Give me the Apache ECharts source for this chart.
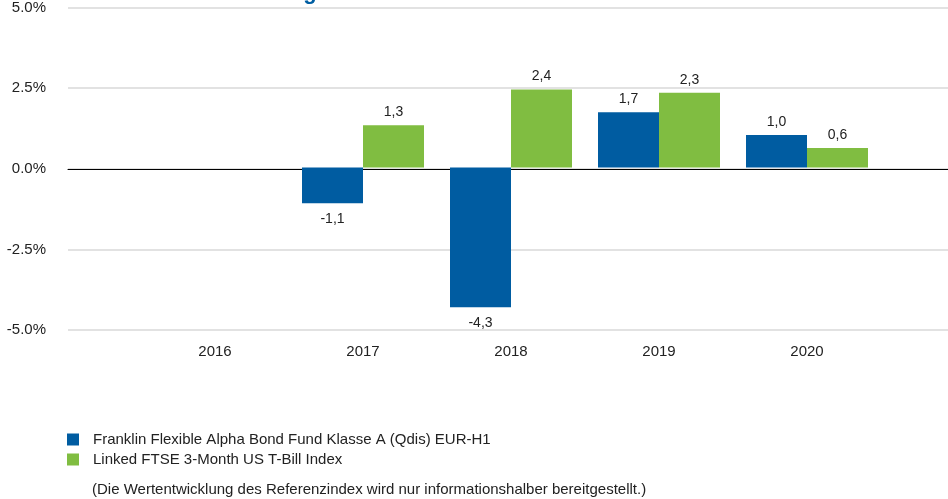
<!DOCTYPE html>
<html>
<head>
<meta charset="utf-8">
<script src="https://cdn.jsdelivr.net/npm/echarts@6/dist/echarts.min.js"></script>
<style>
html,body{margin:0;padding:0;background:#fff;}
#chart{width:948px;height:499px;}
</style>
</head>
<body>
<div id="chart"></div>
<script>
var years=['2016','2017','2018','2019','2020'];
var fundValues=[null,-1.1,-4.3,1.7,1.0];
var indexValues=[null,1.3,2.4,2.3,0.6];
var fundName='Franklin Flexible Alpha Bond Fund Klasse A (Qdis) EUR-H1';
var indexName='Linked FTSE 3-Month US T-Bill Index';
var note='(Die Wertentwicklung des Referenzindex wird nur informationshalber bereitgestellt.)';

var font='"Liberation Sans", Arial, sans-serif';
var chart=echarts.init(document.getElementById('chart'));

function fmt(p){
    return p.value==null ? '' : p.value.toFixed(1).replace('.',',');
}

// negative bars get their label a little further from the bar end
function withLabels(values){
    return values.map(function(v){
        return {value:v,label:{distance:v<0 ? 9 : 6}};
    });
}

var option={
    animation:false,
    textStyle:{fontFamily:font},
    title:{
        text:'Wertentwicklung',
        left:136,
        top:-23,
        textStyle:{fontFamily:font,fontSize:22,fontWeight:'bold',color:'#005ea2'}
    },
    legend:{
        orient:'vertical',
        left:62,
        top:427,
        itemWidth:12,
        itemHeight:12,
        itemGap:5,
        icon:'rect',
        textStyle:{fontFamily:font,fontSize:15,color:'#222',padding:[0,0,0,9]},
        data:[fundName,indexName]
    },
    graphic:[{
        type:'text',
        left:92,
        top:482,
        style:{text:note,font:'15px '+font,fill:'#222'}
    }],
    grid:[
        {left:141,right:67,top:5,height:325},
        {left:68,right:0,top:5,height:325}
    ],
    xAxis:[
        {
            type:'category',
            gridIndex:0,
            data:years,
            axisLine:{show:false,onZero:false},
            axisTick:{show:false},
            axisLabel:{fontSize:15,color:'#222',margin:14,fontFamily:font}
        },
        {
            type:'value',
            gridIndex:1,
            min:0,max:1,
            axisLine:{show:true,onZero:true,lineStyle:{color:'#000',width:1}},
            axisTick:{show:false},
            axisLabel:{show:false},
            splitLine:{show:false}
        }
    ],
    yAxis:[
        {
            type:'value',
            gridIndex:0,
            min:-5,max:5,interval:2.5,
            show:false,
            splitLine:{show:false}
        },
        {
            type:'value',
            gridIndex:1,
            min:-5,max:5,interval:2.5,
            axisLine:{show:false},
            axisTick:{show:false},
            axisLabel:{
                fontSize:15,color:'#222',margin:22,fontFamily:font,
                formatter:function(v){return v.toFixed(1)+'%';}
            },
            splitLine:{lineStyle:{color:'#d9d9d9',width:1.5}}
        }
    ],
    series:[
        {
            name:fundName,
            type:'bar',
            xAxisIndex:0,yAxisIndex:0,
            data:withLabels(fundValues),
            barWidth:61,
            barGap:'0%',
            itemStyle:{color:'#005ca1'},
            label:{show:true,position:'outside',fontSize:14,color:'#222',fontFamily:font,formatter:fmt}
        },
        {
            name:indexName,
            type:'bar',
            xAxisIndex:0,yAxisIndex:0,
            data:withLabels(indexValues),
            barWidth:61,
            barGap:'0%',
            itemStyle:{color:'#80bd41'},
            label:{show:true,position:'outside',fontSize:14,color:'#222',fontFamily:font,formatter:fmt}
        }
    ]
};
chart.setOption(option);
</script>
</body>
</html>
